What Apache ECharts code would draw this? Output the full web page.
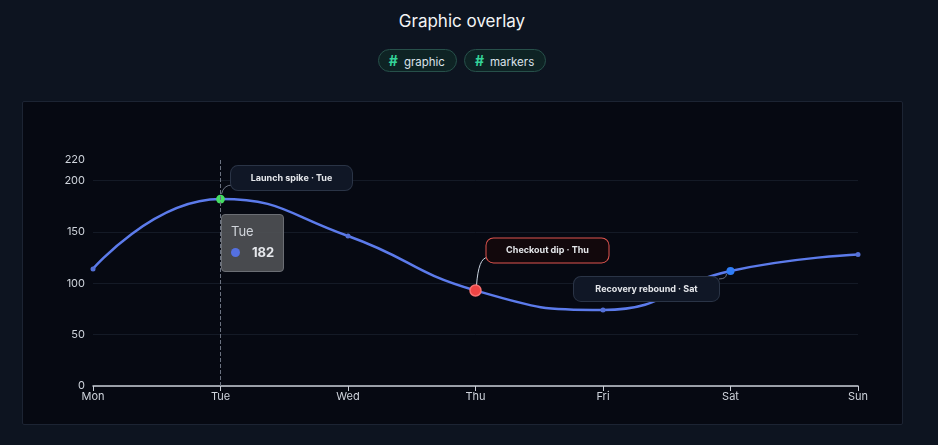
<!DOCTYPE html>
<html lang="en">
<head>
<meta charset="UTF-8">
<title>Graphic overlay</title>
<script src="https://cdn.jsdelivr.net/npm/echarts@6/dist/echarts.min.js"></script>
<style>
  html, body { margin: 0; padding: 0; background: #0d1420; width: 938px; height: 445px; overflow: hidden; font-family: Inter, "Noto Sans", sans-serif; }
  .title { position: absolute; left: 0; width: 924px; top: 11px; text-align: center; color: #f3f4f6; font-size: 17px; }
  .chips { position: absolute; left: 0; width: 924px; top: 49px; text-align: center; font-size: 0; }
  .chip { display: inline-block; height: 21px; line-height: 21px; padding: 0 11px 0 10px; margin: 0 3.5px; border: 1px solid #27504a; border-radius: 12px; background: #0e2324; color: #dbe2ea; font-size: 11.5px; }
  .chip b { color: #34d399; font-size: 14px; margin-right: 6px; }
  #panel { position: absolute; left: 22px; top: 101px; width: 879px; height: 322px; background: #060912; border: 1px solid #1c2433; border-radius: 2px; }
  #chart { width: 879px; height: 322px; }
</style>
</head>
<body>
<div class="title">Graphic overlay</div>
<div class="chips"><span class="chip"><b>#</b>graphic</span><span class="chip"><b>#</b>markers</span></div>
<div id="panel"><div id="chart"></div></div>
<script type="text/javascript">
    var days = ['Mon', 'Tue', 'Wed', 'Thu', 'Fri', 'Sat', 'Sun'];
    var values = [114, 182, 146, 93, 74, 112, 128];
    // highlighted points
    var notes = [
        { index: 1, text: 'Launch spike \u00b7 Tue', color: '#3ec95a' },
        { index: 3, text: 'Checkout dip \u00b7 Thu', color: '#ef4444' },
        { index: 5, text: 'Recovery rebound \u00b7 Sat', color: '#2f7df6' }
    ];
    // callout offsets from the point: dx, dy, box width
    var callout = { 1: [71, -21, 121], 3: [72, -40, 122], 5: [-84, 18, 145] };

    var chart = echarts.init(document.getElementById('chart'));

    var seriesData = values.map(function (v, i) {
        var note = notes.filter(function (n) { return n.index === i; })[0];
        if (!note) return v;
        var dip = note.index === 3;
        return {
            value: v,
            symbolSize: dip ? 11 : 8,
            itemStyle: { color: note.color, borderColor: dip ? '#f87171' : note.color, borderWidth: dip ? 1.5 : 0 },
            label: {
                show: true,
                formatter: note.text,
                position: 'inside',
                color: '#e5e7eb',
                fontSize: 9,
                fontWeight: 'bold',
                width: callout[i][2] - 44,
                height: 12,
                lineHeight: 12,
                align: 'center',
                backgroundColor: dip ? '#12080c' : '#101726',
                borderColor: dip ? '#e0554f' : '#2a3446',
                borderWidth: 1,
                borderRadius: 7,
                padding: [6, 22, 6, 22]
            }
        };
    });

    chart.setOption({
        backgroundColor: 'transparent',
        textStyle: { fontFamily: 'Inter, "Noto Sans", sans-serif' },
        grid: { left: 70, right: 44, top: 58, bottom: 38 },
        tooltip: {
            trigger: 'axis',
            triggerOn: 'none',
            alwaysShowContent: true,
            backgroundColor: 'rgba(78,80,84,0.92)',
            borderColor: '#6b6e74',
            borderWidth: 1,
            padding: [7, 9],
            extraCssText: 'border-radius:4px;box-shadow:none;',
            textStyle: { color: '#e5e7eb' },
            position: function (point) { return [point[0], point[1] + 15]; },
            axisPointer: { type: 'line', lineStyle: { color: '#6b7280', type: 'dashed', width: 1 } },
            formatter: function (params) {
                var p = params[0];
                return '<div style="font-size:13px;color:#d1d5db;line-height:18px">' + p.name + '</div>' +
                    '<div style="font-size:13px;line-height:24px"><span style="display:inline-block;width:9px;height:9px;border-radius:5px;background:#5470e0;margin-right:12px"></span>' +
                    '<b style="color:#e5e7eb">' + p.value + '</b></div>';
            }
        },
        xAxis: {
            type: 'category',
            data: days,
            boundaryGap: false,
            axisLine: { lineStyle: { color: '#c9ced6', width: 1.5 } },
            axisTick: { show: true, lineStyle: { color: '#c9ced6' } },
            axisLabel: { color: '#cfd4dc', fontSize: 11, margin: 5 }
        },
        yAxis: {
            type: 'value',
            min: 0,
            max: 220,
            interval: 50,
            axisLabel: { color: '#cfd4dc', fontSize: 11, margin: 8, showMaxLabel: true },
            splitLine: { showMaxLine: false, lineStyle: { color: '#141a26', width: 1 } },
            axisLine: { show: false },
            axisTick: { show: false }
        },
        series: [{
            type: 'line',
            smooth: true,
            data: seriesData,
            symbol: 'circle',
            symbolSize: 5,
            lineStyle: { color: '#5470d6', width: 2.5 },
            itemStyle: { color: '#5470d6' },
            labelLayout: function (params) {
                var s = callout[params.dataIndex];
                if (!s) return {};
                return { dx: s[0], dy: s[1] };
            }
        }]
    });

    // connectors from each highlighted point to its callout box
    var connectors = notes.map(function (n) {
        var p = chart.convertToPixel({ seriesIndex: 0 }, [n.index, values[n.index]]);
        var c = callout[n.index];
        var cx = p[0] + c[0], cy = p[1] + c[1];
        var shape;
        if (c[0] > 0) {
            var ex = cx - c[2] / 2 + 1, ey = cy + 7;
            shape = { x1: p[0] + 1, y1: p[1] - 5, cpx1: p[0] + 3, cpy1: ey, x2: ex, y2: ey };
        } else {
            var sx = cx + c[2] / 2, sy = cy - 10;
            shape = { x1: sx, y1: sy, cpx1: p[0] - 4, cpy1: sy, x2: p[0] - 4, y2: p[1] + 3 };
        }
        return {
            type: 'bezierCurve',
            shape: shape,
            z: 1,
            style: { stroke: n.index === 3 ? '#cbd5e1' : '#6b7280', lineWidth: 1, fill: null }
        };
    });
    chart.setOption({ graphic: connectors });

    chart.dispatchAction({ type: 'showTip', seriesIndex: 0, dataIndex: 1 });
</script>
</body>
</html>
